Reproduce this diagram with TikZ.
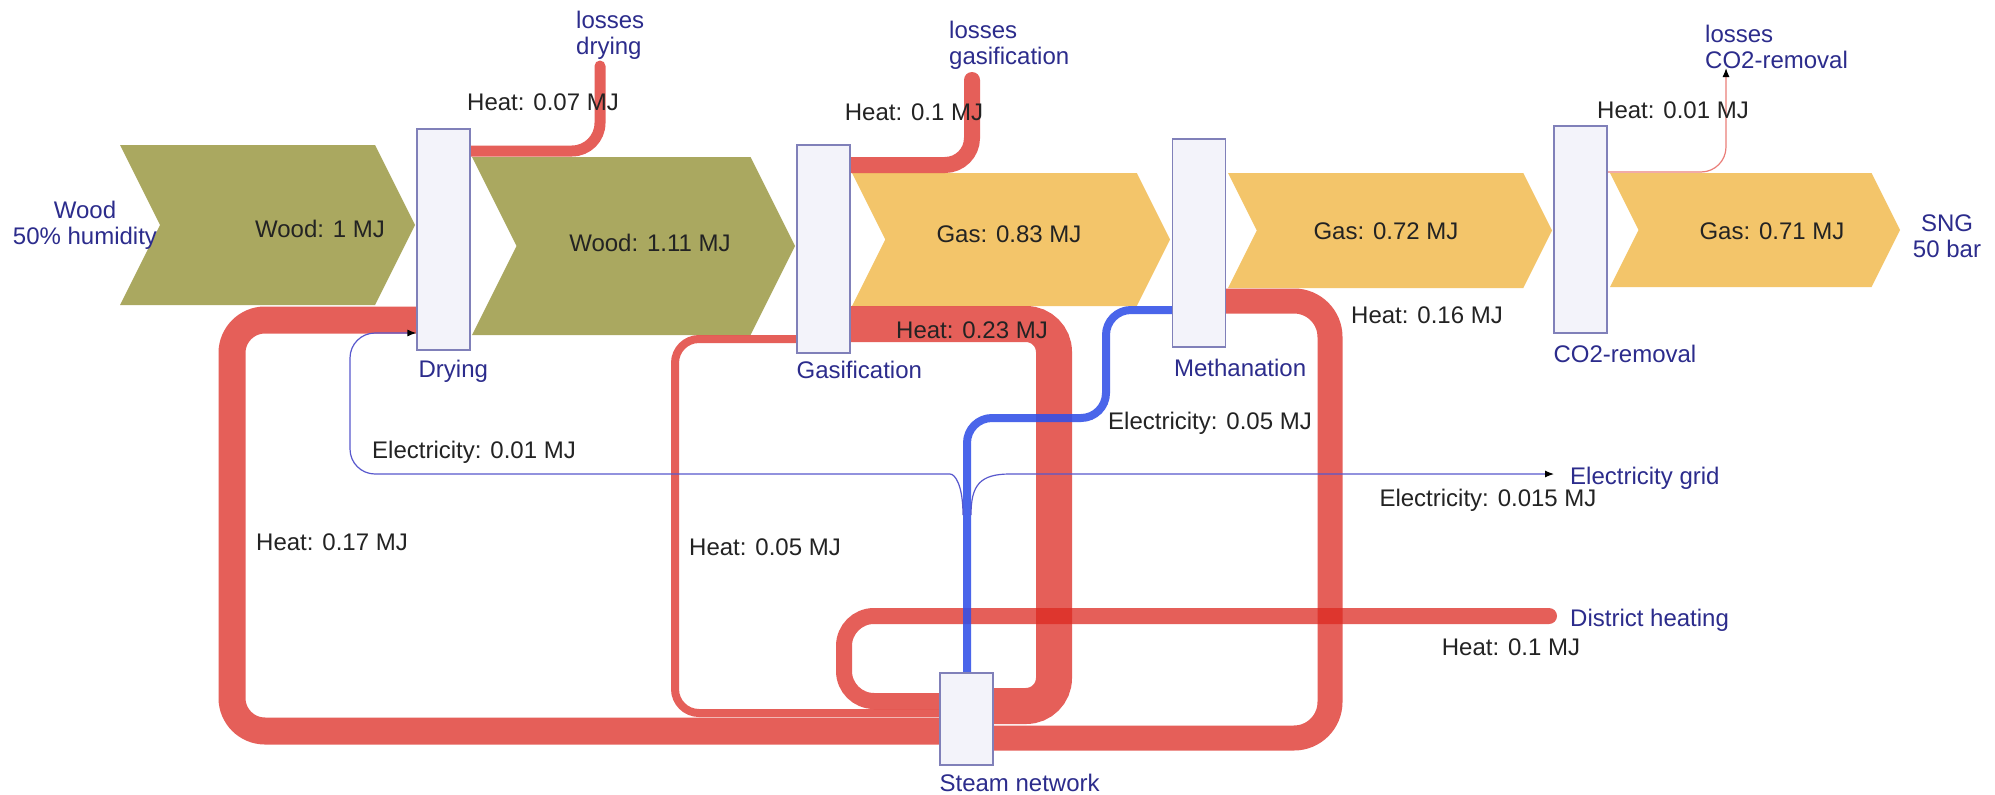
\documentclass[tikz,border=0pt]{standalone}
\usepackage{fontspec}
\setmainfont{Liberation Sans}
\usetikzlibrary{arrows.meta,calc,positioning,backgrounds}
\definecolor{woodcol}{RGB}{170,168,96}
\definecolor{gascol}{RGB}{243,197,106}
\definecolor{heatcol}{RGB}{220,40,32}
\definecolor{eleccol}{RGB}{50,80,232}
\definecolor{electhin}{RGB}{88,88,205}
\definecolor{unitfill}{RGB}{243,243,250}
\definecolor{unitdraw}{RGB}{128,128,185}
\definecolor{namecol}{RGB}{44,44,140}
\definecolor{valcol}{RGB}{35,35,35}
\tikzset{
  unit/.style={draw=unitdraw, fill=unitfill, line width=1.2pt, minimum width=53pt, inner sep=0pt},
  unitname/.style={text=namecol, anchor=west, inner sep=0pt},
  endname/.style={text=namecol, align=left, inner sep=0pt},
  val/.style={text=valcol, inner sep=0pt},
  heat/.style={draw=heatcol, draw opacity=0.74},
  elec/.style={draw=eleccol, draw opacity=0.88, line width=8pt},
  elecline/.style={draw=electhin, line width=1.2pt},
  tipblack/.style={-{Latex[black,length=9pt,width=7pt]}}
}
\begin{document}
\begin{tikzpicture}[x=1pt,y=-1pt,font=\fontsize{24}{26}\selectfont]
  \useasboundingbox (0,0) rectangle (1995,795);
  % process units
  \node[unit, minimum height=221pt] (drying) at (443.5,239.5) {};
  \node[unit, minimum height=208pt] (gasif) at (823.5,249) {};
  \node[unit, minimum height=208pt] (methan) at (1199,243) {};
  \node[unit, minimum height=207pt] (co2rem) at (1580.5,229.5) {};
  \node[unit, minimum height=92pt] (steam) at (966.5,719) {};

  \begin{scope}[on background layer]
    \fill[white] (0,0) rectangle (1995,795);
    % main flows
    \foreach \xs/\xe/\yt/\h/\col in {120/415/145/160/woodcol, 472/795/157/178/woodcol,
        852/1170/173/133/gascol, 1228/1552/173/115/gascol, 1610/1900/173/114/gascol}
      \fill[\col] (\xs,\yt) -- ({\xe-\h/4},\yt) -- (\xe,{\yt+\h/2}) -- ({\xe-\h/4},{\yt+\h})
        -- (\xs,{\yt+\h}) -- ({\xs+\h/4},{\yt+\h/2}) -- cycle;
    % heat out of the steam network
    \draw[heat, line width=27pt, rounded corners=33pt] (steam.west |- 0,731) -- (232,731) -- (232,320) -- (drying.west |- 0,320);
    \draw[heat, line width=8pt, rounded corners=24pt] (steam.west |- 0,713) -- (675,713) -- (675,339) -- (gasif.west |- 0,339);
    \draw[heat, line width=16pt, rounded corners=30pt, line cap=round] (steam.west |- 0,701) -- (844,701) -- (844,616) -- (1549,616);
    % heat into the steam network
    \draw[heat, line width=36pt, rounded corners=28pt] (gasif.east |- 0,324) -- (1054,324) -- (1054,706) -- (steam.east |- 0,706);
    \draw[heat, line width=25pt, rounded corners=36pt] (methan.east |- 0,301) -- (1330,301) -- (1330,738) -- (steam.east |- 0,738);
    % losses
    \draw[heat, line width=11pt, rounded corners=28pt, line cap=round] (drying.east |- 0,151) -- (600,151) -- (600,66);
    \draw[heat, line width=16pt, rounded corners=27pt, line cap=round] (gasif.east |- 0,165) -- (972,165) -- (972,80);
    \draw[heatcol!60, line width=1.2pt, rounded corners=25pt, tipblack] (co2rem.east |- 0,172) -- (1726,172) -- (1726,68);
    % electricity
    \draw[elec, rounded corners=25pt] (steam.north -| 967,0) -- (967,418) -- (1106,418) -- (1106,310) -- (methan.west |- 0,310);
    \draw[elecline, rounded corners=25pt, tipblack] (963,515) .. controls (963,485) and (955,474) .. (925,474)
      -- (350,474) -- (350,333) -- (drying.west |- 0,333);
    \draw[elecline, tipblack] (971,515) .. controls (971,485) and (980,474) .. (1010,474) -- (1554,474);
  \end{scope}

  % unit names
  \node[unitname] (dryinglbl) at ($(drying.south west)+(2,21)$) {Drying};
  \node[unitname] (gasiflbl) at ($(gasif.south west)+(0,16)$) {Gasification};
  \node[unitname] (methanlbl) at ($(methan.south west)+(2,20)$) {Methanation};
  \node[unitname] (co2remlbl) at ($(co2rem.south west)+(0,20)$) {CO2-removal};
  \node[unitname] (steamlbl) at ($(steam.south west)+(0,17)$) {Steam network};
  % sources and sinks
  \node[endname, align=center] (woodin) at (85,225) {Wood\\50\% humidity};
  \node[endname, align=center] (sng) at (1947,236) {SNG\\50 bar};
  \node[endname, anchor=west] (lossdry) at (576,35) {losses\\drying};
  \node[endname, anchor=west] (lossgas) at (949,45) {losses\\gasification};
  \node[endname, anchor=west] (lossco2) at (1705,47) {losses\\CO2-removal};
  \node[endname, anchor=west] (grid) at (1570,478) {Electricity grid};
  \node[endname, anchor=west] (dh) at (1570,620) {District heating};
  % flow values
  \node[val] (wood1) at (320,229) {Wood: 1 MJ};
  \node[val] (wood2) at (650,243) {Wood: 1.11 MJ};
  \node[val] (gas1) at (1009,234) {Gas: 0.83 MJ};
  \node[val] (gas2) at (1386,231) {Gas: 0.72 MJ};
  \node[val] (gas3) at (1772,231) {Gas: 0.71 MJ};
  \node[val] (lossdryval) at (543,102) {Heat: 0.07 MJ};
  \node[val] (lossgasval) at (914,112) {Heat: 0.1 MJ};
  \node[val] (lossco2val) at (1673,110) {Heat: 0.01 MJ};
  \node[val] (heatgas) at (972,330) {Heat: 0.23 MJ};
  \node[val] (heatmeth) at (1427,315) {Heat: 0.16 MJ};
  \node[val] (elecmeth) at (1210,423) {Electricity: 0.05 MJ};
  \node[val] (elecdry) at (474,452) {Electricity: 0.01 MJ};
  \node[val] (heatdry) at (332,542) {Heat: 0.17 MJ};
  \node[val] (heatgasin) at (765,547) {Heat: 0.05 MJ};
  \node[val] (elecgrid) at (1488,500) {Electricity: 0.015 MJ};
  \node[val] (heatdh) at (1511,647) {Heat: 0.1 MJ};
\end{tikzpicture}
\end{document}
